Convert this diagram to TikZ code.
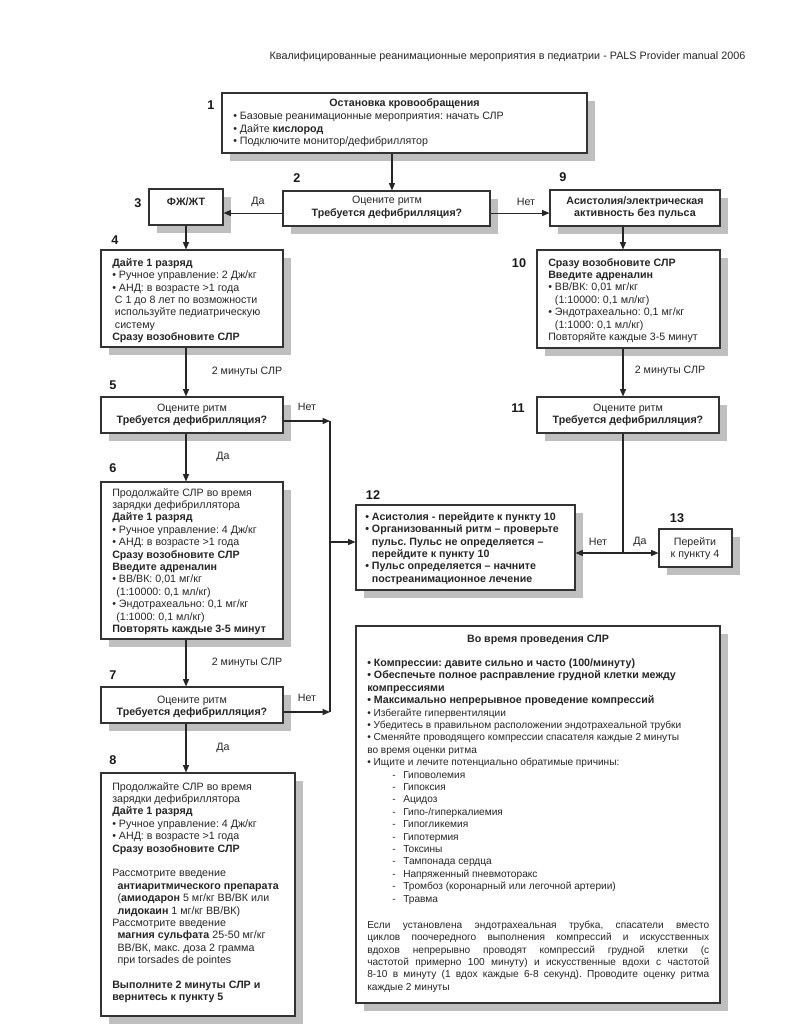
\documentclass[tikz,border=0pt]{standalone}
\usepackage{fontspec}
\setmainfont{Liberation Sans}
\usetikzlibrary{arrows.meta,shadows,fit,calc}
\frenchspacing
\newcommand\bl{\fontsize{8}{9.3}\selectfont\bfseries}
\begin{document}
\begin{tikzpicture}[x=0.75pt,y=-0.75pt,
  box/.style={draw=black!80, line width=0.8pt, fill=white, inner sep=0pt, rectangle,
    drop shadow={shadow xshift=6pt,shadow yshift=-6pt,fill=black!25,opacity=1}},
  txt/.style={inner sep=0pt, font=\fontsize{8}{9.3}\selectfont, text=black!85, align=left, anchor=north west},
  ctr/.style={inner sep=0pt, font=\fontsize{8}{9.3}\selectfont, text=black!85, align=center},
  num/.style={inner sep=0pt, font=\fontsize{9.5}{10}\selectfont\bfseries, text=black!90},
  lbl/.style={inner sep=0pt, font=\fontsize{8}{9.3}\selectfont, text=black!85},
  arr/.style={draw=black!85, line width=0.8pt, -{Triangle[length=5.5pt,width=4.5pt]}},
  ln/.style={draw=black!85, line width=0.8pt}]
\useasboundingbox[fill=white] (0,0) rectangle (793,1024);

% header
\node[lbl, font=\fontsize{8.1}{9}\selectfont] (hdr) at (507.5,57) {Квалифицированные реанимационные мероприятия в педиатрии - PALS Provider manual 2006};

% boxes
\node[box, fit={(222,93) (587,153)}] (b1) {};
\node[box, fit={(283,191) (490,226)}] (b2) {};
\node[box, fit={(149,189) (223,225)}] (b3) {};
\node[box, fit={(101,250) (283,347)}] (b4) {};
\node[box, fit={(550,190) (720,226)}] (b9) {};
\node[box, fit={(537,250) (720,348)}] (b10) {};
\node[box, fit={(101,397) (283,433)}] (b5) {};
\node[box, fit={(101,482) (283,639)}] (b6) {};
\node[box, fit={(101,687) (283,723)}] (b7) {};
\node[box, fit={(101,773) (295,1016)}] (b8) {};
\node[box, fit={(537,397) (719,433)}] (b11) {};
\node[box, fit={(356,505) (575,590)}] (b12) {};
\node[box, fit={(659,529) (732,567)}] (b13) {};
\node[box, fit={(356,626) (720,1003)}] (bc) {};

% numbers
\node[num] (n1) at (211,105) {1};
\node[num] (n2) at (297,178) {2};
\node[num] (n3) at (138,203) {3};
\node[num] (n4) at (115,240) {4};
\node[num] (n5) at (113,385) {5};
\node[num] (n6) at (113,468) {6};
\node[num] (n7) at (113,675) {7};
\node[num] (n8) at (113,760) {8};
\node[num] (n9) at (563,177) {9};
\node[num] (n10) at (519,263) {10};
\node[num] (n11) at (518,408) {11};
\node[num] (n12) at (373,495) {12};
\node[num] (n13) at (677,518) {13};

% texts
\node[ctr] (t1h) at (404.5,104) {\textbf{Остановка кровообращения}};
\node[txt] (t1) at (233,112) {• Базовые реанимационные мероприятия: начать СЛР\\• Дайте \textbf{кислород}\\• Подключите монитор/дефибриллятор};
\node[ctr] (t2) at (387,207.5) {Оцените ритм\\\textbf{Требуется дефибрилляция?}};
\node[ctr] (t3) at (186,202) {\textbf{ФЖ/ЖТ}};
\node[txt] (t4) at (112,258) {\textbf{Дайте 1 разряд}\\• Ручное управление: 2 Дж/кг\\• АНД: в возрасте >1 года\\\hspace*{2pt}С 1 до 8 лет по возможности\\\hspace*{2pt}используйте педиатрическую\\\hspace*{2pt}систему\\\textbf{Сразу возобновите СЛР}};
\node[ctr] (t9) at (635,208) {\textbf{Асистолия/электрическая}\\\textbf{активность без пульса}};
\node[txt] (t10) at (548,258) {\textbf{Сразу возобновите СЛР}\\\textbf{Введите адреналин}\\• ВВ/ВК: 0,01 мг/кг\\\phantom{•}\ (1:10000: 0,1 мл/кг)\\• Эндотрахеально: 0,1 мг/кг\\\phantom{•}\ (1:1000: 0,1 мл/кг)\\Повторяйте каждые 3-5 минут};
\node[ctr] (t5) at (192,415) {Оцените ритм\\\textbf{Требуется дефибрилляция?}};
\node[txt] (t6) at (112,488) {Продолжайте СЛР во время\\зарядки дефибриллятора\\\textbf{Дайте 1 разряд}\\• Ручное управление: 4 Дж/кг\\• АНД: в возрасте >1 года\\\textbf{Сразу возобновите СЛР}\\\textbf{Введите адреналин}\\• ВВ/ВК: 0,01 мг/кг\\\hspace*{3pt}(1:10000: 0,1 мл/кг)\\• Эндотрахеально: 0,1 мг/кг\\\hspace*{3pt}(1:1000: 0,1 мл/кг)\\\textbf{Повторять каждые 3-5 минут}};
\node[ctr] (t7) at (192,707) {Оцените ритм\\\textbf{Требуется дефибрилляция?}};
\node[txt] (t8) at (112,782) {Продолжайте СЛР во время\\зарядки дефибриллятора\\\textbf{Дайте 1 разряд}\\• Ручное управление: 4 Дж/кг\\• АНД: в возрасте >1 года\\\textbf{Сразу возобновите СЛР}\\[9.3pt]Рассмотрите введение\\\hspace*{4pt}\textbf{антиаритмического препарата}\\\hspace*{4pt}(\textbf{амиодарон} 5 мг/кг ВВ/ВК или\\\hspace*{4pt}\textbf{лидокаин} 1 мг/кг ВВ/ВК)\\Рассмотрите введение\\\hspace*{4pt}\textbf{магния сульфата} 25-50 мг/кг\\\hspace*{4pt}ВВ/ВК, макс. доза 2 грамма\\\hspace*{4pt}при torsades de pointes\\[9.3pt]\textbf{Выполните 2 минуты СЛР и}\\\textbf{вернитесь к пункту 5}};
\node[ctr] (t11) at (628,415) {Оцените ритм\\\textbf{Требуется дефибрилляция?}};
\node[txt] (t12) at (365,512) {\bfseries • Асистолия - перейдите к пункту 10\\\bfseries • Организованный ритм – проверьте\\\bfseries \phantom{•}\ пульс. Пульс не определяется –\\\bfseries \phantom{•}\ перейдите к пункту 10\\\bfseries • Пульс определяется – начните\\\bfseries \phantom{•}\ постреанимационное лечение};
\node[ctr] (t13) at (695,548.5) {Перейти\\к пункту 4};
\node[ctr] (tch) at (538,640) {\textbf{Во время проведения СЛР}};
\node[txt, font=\fontsize{7.6}{9.3}\selectfont] (tc) at (367,658.5) {\bl • Компрессии: давите сильно и часто (100/минуту)\\\bl • Обеспечьте полное расправление грудной клетки между\\\bl компрессиями\\\bl • Максимально непрерывное проведение компрессий\\• Избегайте гипервентиляции\\• Убедитесь в правильном расположении эндотрахеальной трубки\\• Сменяйте проводящего компрессии спасателя каждые 2 минуты\\во время оценки ритма\\• Ищите и лечите потенциально обратимые причины:\\
\makebox[27pt][l]{\hspace*{18.75pt}-}Гиповолемия\\
\makebox[27pt][l]{\hspace*{18.75pt}-}Гипоксия\\
\makebox[27pt][l]{\hspace*{18.75pt}-}Ацидоз\\
\makebox[27pt][l]{\hspace*{18.75pt}-}Гипо-/гиперкалиемия\\
\makebox[27pt][l]{\hspace*{18.75pt}-}Гипогликемия\\
\makebox[27pt][l]{\hspace*{18.75pt}-}Гипотермия\\
\makebox[27pt][l]{\hspace*{18.75pt}-}Токсины\\
\makebox[27pt][l]{\hspace*{18.75pt}-}Тампонада сердца\\
\makebox[27pt][l]{\hspace*{18.75pt}-}Напряженный пневмоторакс\\
\makebox[27pt][l]{\hspace*{18.75pt}-}Тромбоз (коронарный или легочной артерии)\\
\makebox[27pt][l]{\hspace*{18.75pt}-}Травма};
\node[txt, font=\fontsize{7.6}{9.3}\selectfont, align=justify, text width=256.5pt] (tcp) at (367,920.5) {\hyphenpenalty=10000 Если установлена эндотрахеальная трубка, спасатели вместо\linebreak циклов поочередного выполнения компрессий и искусственных\linebreak вдохов непрерывно проводят компрессий грудной клетки (с\linebreak частотой примерно 100 минуту) и искусственные вдохи с частотой\linebreak 8-10 в минуту (1 вдох каждые 6-8 секунд). Проводите оценку ритма\linebreak каждые 2 минуты};

% connectors
\coordinate (cL) at (186,0);
\draw[arr] ([xshift=-9.4pt]b1.south) coordinate (a1) -- (a1 |- b2.north);
\draw[arr] ([yshift=-3.4pt]b2.west) coordinate (a2) -- (a2 -| b3.east);
\draw[arr] ([yshift=-3.4pt]b2.east) coordinate (a3) -- (a3 -| b9.west);
\draw[arr] (cL |- b3.south) -- (cL |- b4.north);
\draw[arr] (cL |- b4.south) -- (cL |- b5.north);
\draw[arr] (cL |- b5.south) -- (cL |- b6.north);
\draw[arr] (cL |- b6.south) -- (cL |- b7.north);
\draw[arr] (cL |- b7.south) -- (cL |- b8.north);
\draw[arr] ([xshift=-9pt]b9.south) coordinate (a4) -- (a4 |- b10.north);
\draw[arr] (a4 |- b10.south) -- (a4 |- b11.north);
\coordinate (j) at (623,553);
\draw[ln] (a4 |- b11.south) -- (j);
\draw[arr] (j) -- (j -| b12.east);
\draw[arr] (j) -- (j -| b13.west);
\coordinate (m5) at (330,421);
\coordinate (m7) at (330,712);
\coordinate (m12) at (330,542);
\draw[ln] (m5) -- (m7);
\draw[arr] (b5.east |- m5) -- (m5);
\draw[arr] (b7.east |- m7) -- (m7);
\draw[arr] (m12) -- (m12 -| b12.west);

% connector labels
\node[lbl] (l1) at (258,202) {Да};
\node[lbl] (l2) at (526,202) {Нет};
\node[lbl] (l3) at (247,372) {2 минуты СЛР};
\node[lbl] (l4) at (247,663) {2 минуты СЛР};
\node[lbl] (l5) at (670,371) {2 минуты СЛР};
\node[lbl] (l6) at (223,457) {Да};
\node[lbl] (l7) at (223,748) {Да};
\node[lbl] (l8) at (307,407) {Нет};
\node[lbl] (l9) at (307,698) {Нет};
\node[lbl] (l10) at (598,542) {Нет};
\node[lbl] (l11) at (640,542) {Да};
\end{tikzpicture}
\end{document}
